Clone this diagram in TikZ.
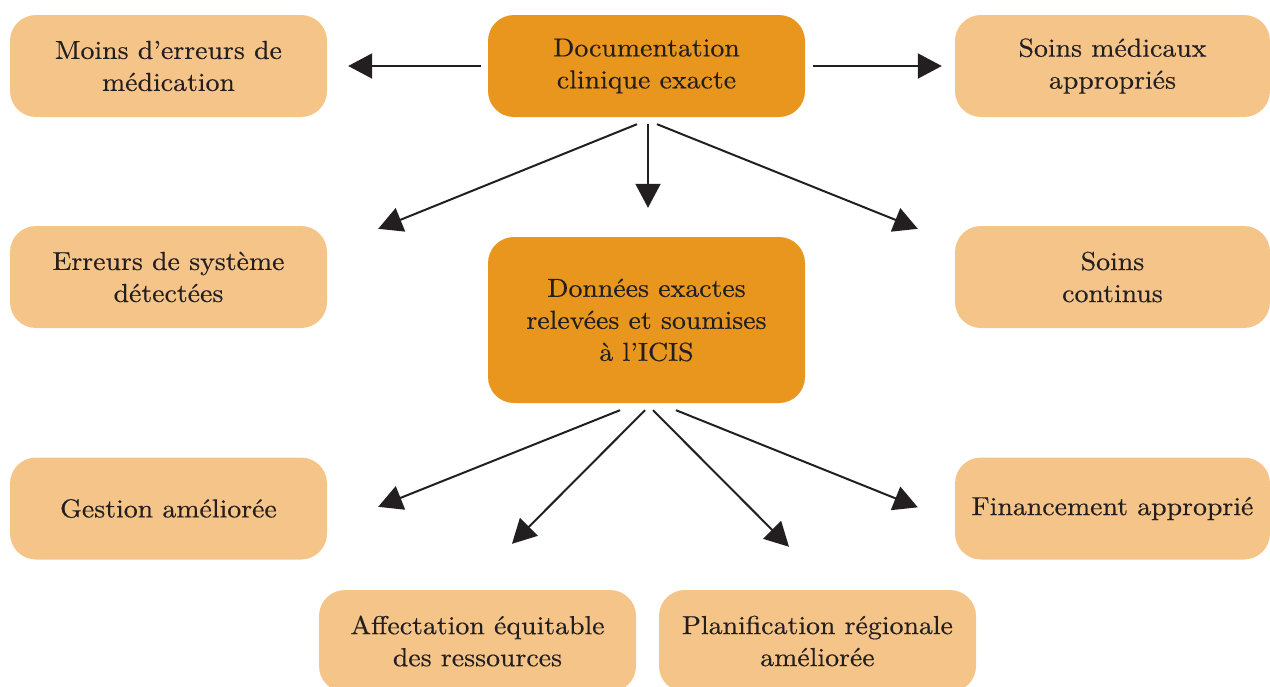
\documentclass[tikz,border=0pt]{standalone}
\usepackage{fontspec}
\setmainfont{lmroman10-regular.otf}[FakeStretch=1.07,FakeBold=0.4]
\usetikzlibrary{arrows.meta,calc}
\definecolor{darkor}{HTML}{E8961E}
\definecolor{lightor}{HTML}{F5C489}
\definecolor{ink}{HTML}{231F20}
\begin{document}
\begin{tikzpicture}[x=1pt,y=-1pt,
  box/.style={rectangle,rounded corners=26pt,minimum width=317pt,minimum height=102pt,
    fill=lightor,text=ink,align=center,inner sep=0pt,font=\fontsize{26}{32}\selectfont},
  mainbox/.style={box,fill=darkor},
  arr/.style={draw=ink,line width=2pt,-{Triangle[length=24pt,width=25pt]}}]
\useasboundingbox (0,0) rectangle (1270,686);
\clip (0,0) rectangle (1270,686);
% nodes
\node[box] (tl) at (168.5,66) {Moins d’erreurs de\\médication};
\node[mainbox] (tc) at (646.5,66) {Documentation\\clinique exacte};
\node[box,minimum width=315pt] (tr) at (1112.5,66) {Soins médicaux\\appropriés};
\node[box] (ml) at (168.5,277) {Erreurs de système\\détectées};
\node[mainbox,minimum height=166pt] (c) at (646.5,320) {Données exactes\\relevées et soumises\\à l’ICIS};
\node[box,minimum width=315pt] (mr) at (1112.5,277) {Soins\\continus};
\node[box] (bl) at (168.5,508.5) {Gestion améliorée};
\node[box,minimum width=315pt] (br) at (1112.5,508.5) {Financement approprié};
\node[box] (b1) at (477.5,641) {Affectation équitable\\des ressources};
\node[box] (b2) at (817.5,641) {Planification régionale\\améliorée};
% connector end points
\coordinate (s1) at ($(tc.south)+(-9.5,7)$);
\coordinate (s2) at ($(tc.south)+(1.5,7)$);
\coordinate (s3) at ($(tc.south)+(10.5,7)$);
\coordinate (e1) at ($(ml.north east)+(51,3)$);
\coordinate (e2) at ($(c.north)+(1.5,-29)$);
\coordinate (e3) at ($(mr.north west)+(-37,3)$);
\coordinate (s4) at ($(c.south)+(-26.5,7)$);
\coordinate (s5) at ($(c.south)+(-1.5,7)$);
\coordinate (s6) at ($(c.south)+(6.5,7)$);
\coordinate (s7) at ($(c.south)+(29.5,7)$);
\coordinate (e4) at ($(bl.north east)+(51,49.5)$);
\coordinate (e5) at ($(b1.north)+(34.5,-46)$);
\coordinate (e6) at ($(b2.north)+(-28.5,-43)$);
\coordinate (e7) at ($(br.north west)+(-37,50)$);
% connectors
\draw[arr,shorten <=7pt,shorten >=21pt] (tc.west) -- (tl.east);
\draw[arr,shorten <=8pt,shorten >=13pt] (tc.east) -- (tr.west);
\draw[arr] (s1) -- (e1);
\draw[arr] (s2) -- (e2);
\draw[arr] (s3) -- (e3);
\draw[arr] (s4) -- (e4);
\draw[arr] (s5) -- (e5);
\draw[arr] (s6) -- (e6);
\draw[arr] (s7) -- (e7);
\end{tikzpicture}
\end{document}
